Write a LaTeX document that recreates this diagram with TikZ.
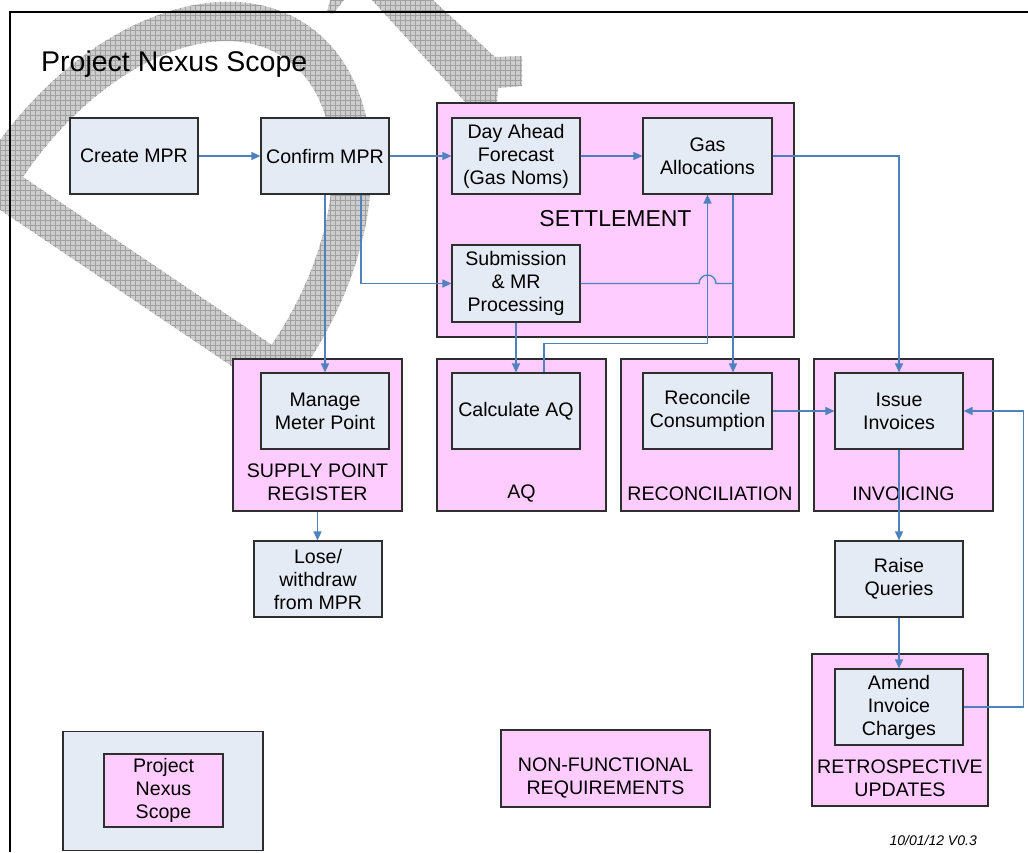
\documentclass[tikz,border=0pt]{standalone}
\usepackage{fontspec}
\setmainfont{Liberation Sans}
\usetikzlibrary{arrows.meta}
\definecolor{boxblue}{HTML}{E5EBF5}
\definecolor{boxpink}{HTML}{FFCCFF}
\definecolor{lineblue}{HTML}{4F81BD}
\definecolor{edgegray}{HTML}{2E2E2E}
\definecolor{wmfill}{HTML}{CDCDCD}
\definecolor{wmline}{HTML}{A0A0A0}
\newcommand\boxfont{\fontsize{19.6pt}{23pt}\selectfont}
\newcommand\setfont{\fontsize{23pt}{27pt}\selectfont}
\tikzset{
  proc/.style={draw=edgegray, line width=1.2pt, fill=boxblue, minimum width=128pt,
    minimum height=76pt, inner sep=0pt, align=center, font=\boxfont},
  group/.style={draw=edgegray, line width=1.2pt, fill=boxpink, inner sep=0pt},
  grouplabel/.style={font=\boxfont, align=center, inner sep=0pt},
  link/.style={draw=lineblue, line width=1.3pt},
  arr/.style={link, -{Triangle[length=9pt,width=8pt]}},
}
\begin{document}
\begin{tikzpicture}[x=1pt, y=-1pt]
\useasboundingbox (0,0) rectangle (1028,852);

% ---------- watermark ----------
\begin{scope}[even odd rule]
  \clip[shift={(23,177)}, rotate=56]
    (-40,-40) -- (0,-40) arc[start angle=90, end angle=-90, x radius=285pt, y radius=190pt]
    -- (-40,340) -- cycle
    (0,0) arc[start angle=90, end angle=-90, x radius=245pt, y radius=150pt] -- cycle;
  \fill[wmfill] (-50,-10) rectangle (520,430);
  \foreach \i in {0,5,...,520} \draw[wmline, line width=0.6pt] (\i,-10) -- (\i,430);
  \foreach \j in {0,5,...,430} \draw[wmline, line width=0.6pt] (-50,\j) -- (520,\j);
\end{scope}
\begin{scope}
  \clip (330,0) -- (344,0) -- (333,14) -- (327,12) -- cycle
        (372,0) -- (433,0) -- (495,57) -- (522,56) -- (522,86) -- (498,88) -- (497,103) -- (466,103) -- cycle;
  \fill[wmfill] (320,-5) rectangle (530,110);
  \foreach \i in {320,325,...,530} \draw[wmline, line width=0.6pt] (\i,-5) -- (\i,110);
  \foreach \j in {0,5,...,110} \draw[wmline, line width=0.6pt] (320,\j) -- (530,\j);
\end{scope}

% ---------- frame ----------
\draw[line width=2.7pt] (10,852) -- (10,12) -- (1028,12);

% ---------- title and date ----------
\node[anchor=base west, inner sep=0pt, font=\fontsize{28.5pt}{34pt}\selectfont] (title) at (41,71) {Project Nexus Scope};
\node[anchor=base east, inner sep=0pt, font=\fontsize{14pt}{16pt}\selectfont\itshape] (date) at (977,845) {10/01/12 V0.3};

% ---------- containers ----------
\node[group, minimum width=357pt, minimum height=234pt,
  label={[font=\setfont, inner sep=0pt, yshift=1pt]center:SETTLEMENT}] (settle) at (615.5,220) {};
\node[group, minimum width=169pt, minimum height=152pt,
  label={[grouplabel, yshift=-47.5pt]center:{SUPPLY POINT\\REGISTER}}] (spr) at (317.5,435) {};
\node[group, minimum width=169pt, minimum height=152pt,
  label={[grouplabel, yshift=-59pt]center:AQ}] (aq) at (521.5,435) {};
\node[group, minimum width=178pt, minimum height=152pt,
  label={[grouplabel, yshift=-59pt]center:RECONCILIATION}] (recon) at (710,435) {};
\node[group, minimum width=179pt, minimum height=152pt,
  label={[grouplabel, yshift=-59pt]center:INVOICING}] (invg) at (903.5,435) {};
\node[group, minimum width=176pt, minimum height=152pt,
  label={[grouplabel, yshift=-48pt]center:{RETROSPECTIVE\\UPDATES}}] (retro) at (900,730) {};
\node[group, minimum width=209pt, minimum height=77pt,
  label={[grouplabel, yshift=-9.5pt]center:{NON-FUNCTIONAL\\REQUIREMENTS}}] (nfr) at (605.5,768.5) {};

% ---------- legend ----------
\node[draw=edgegray, line width=1.2pt, fill=boxblue, minimum width=200pt, minimum height=119pt, inner sep=0pt] (legend) at (163,791) {};
\node[group, minimum width=119pt, minimum height=73pt, align=center, font=\boxfont] (legendin) at (163.5,790.5) {Project\\Nexus\\Scope};

% ---------- process boxes ----------
\node[proc] (create) at (134,156) {Create MPR};
\node[proc] (confirm) at (325,156) {Confirm MPR};
\node[proc] (dayahead) at (516,156) {Day Ahead\\Forecast\\(Gas Noms)};
\node[proc, minimum width=129pt] (gasalloc) at (707.5,156) {Gas\\Allocations};
\node[proc, minimum height=77pt] (submission) at (516,283.5) {Submission\\\& MR\\Processing};
\node[proc] (manage) at (325,411) {Manage\\Meter Point};
\node[proc] (calcaq) at (516,411) {Calculate AQ};
\node[proc, minimum width=129pt] (reconcile) at (707.5,411) {Reconcile\\Consumption};
\node[proc] (issue) at (899,411) {Issue\\Invoices};
\node[proc] (raise) at (899,579) {Raise\\Queries};
\node[proc] (amend) at (899,707) {Amend\\Invoice\\Charges};
\node[proc] (lose) at (318,579) {Lose/\\withdraw\\from MPR};

% ---------- connectors ----------
\coordinate (gv) at ([xshift=25.5pt]gasalloc.south);
\draw[arr] (create) -- (confirm);
\draw[arr] (confirm) -- (dayahead);
\draw[arr] (dayahead) -- (gasalloc);
\draw[arr] (confirm.south) -- (manage.north);
\draw[arr] ([xshift=36pt]confirm.south) |- (submission.west);
\draw[arr] (submission.south) -- (calcaq.north);
\draw[arr] ([xshift=28pt]calcaq.north) -- ++(0,-29) -| (gasalloc.south);
\draw[link] (submission.east) -- ([xshift=-8.5pt]gasalloc.south |- submission.east)
  arc[start angle=180, end angle=0, radius=8.5pt] -- (gv |- submission.east);
\draw[arr] (gv) -- (gv |- reconcile.north);
\draw[arr] (gasalloc.east) -| (issue.north);
\draw[arr] (reconcile) -- (issue);
\draw[arr] (issue) -- (raise);
\draw[arr] (raise) -- (amend);
\draw[arr] (amend.east) -- ++(60,0) |- (issue.east);
\draw[arr] (spr.south) -- (spr.south |- lose.north);
\end{tikzpicture}
\end{document}
